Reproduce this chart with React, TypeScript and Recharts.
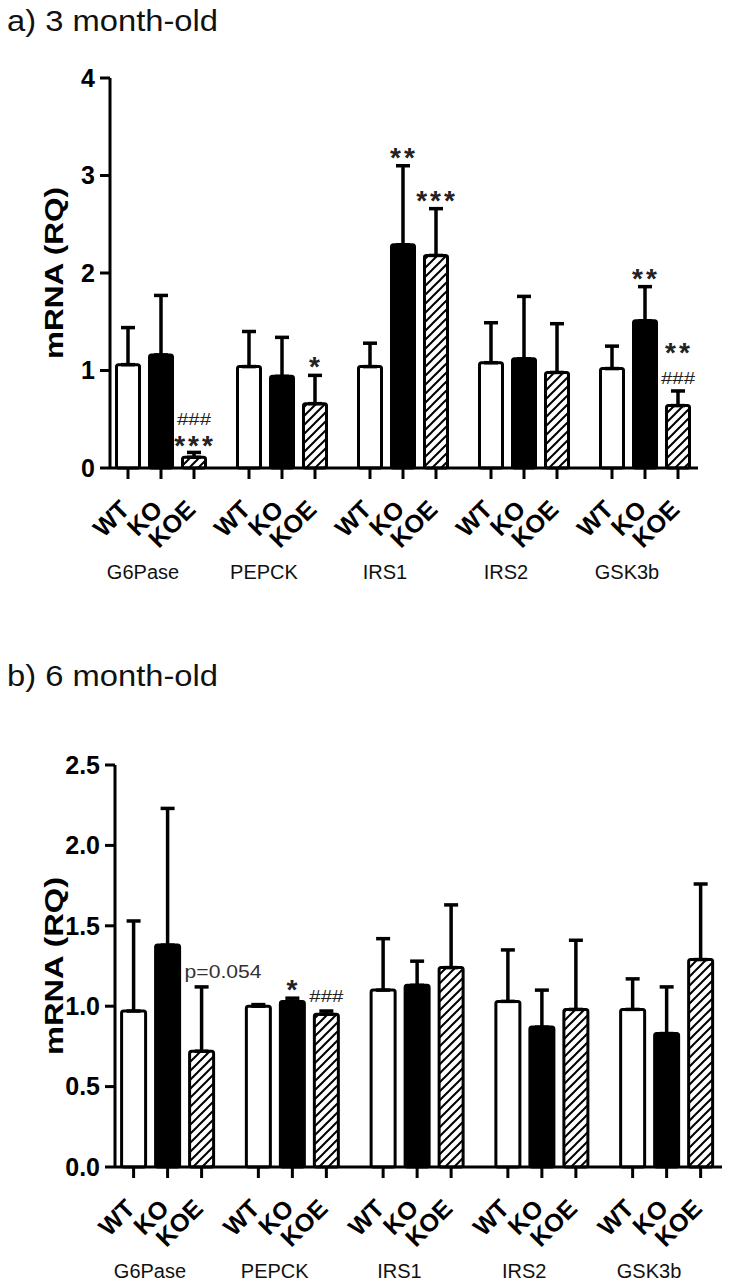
import React from "react";
import { BarChart, Bar, XAxis, YAxis, ErrorBar } from "recharts";

const FONT = "'Liberation Sans', Arial, Helvetica, sans-serif";

const genes = ["G6Pase", "PEPCK", "IRS1", "IRS2", "GSK3b"];
const genotypes = ["WT", "KO", "KOE"];

// a) 3 month-old: mean and upper SEM
const wt3 = [1.06, 1.04, 1.04, 1.08, 1.02];
const wt3Sem = [0.38, 0.36, 0.24, 0.41, 0.23];
const ko3 = [1.16, 0.94, 2.29, 1.12, 1.51];
const ko3Sem = [0.61, 0.4, 0.81, 0.64, 0.35];
const koe3 = [0.11, 0.66, 2.18, 0.98, 0.64];
const koe3Sem = [0.05, 0.29, 0.48, 0.5, 0.15];
const wt3Marks = ["", "", "", "", ""];
const ko3Marks = ["", "", "**", "", "**"];
const koe3Marks = ["###\n***", "*", "***", "", "**\n###"];
const ticks3 = [0, 1, 2, 3, 4];

// b) 6 month-old
const wt6 = [0.97, 1.0, 1.1, 1.03, 0.98];
const wt6Sem = [0.56, 0.01, 0.32, 0.32, 0.19];
const ko6 = [1.38, 1.03, 1.13, 0.87, 0.83];
const ko6Sem = [0.85, 0.02, 0.15, 0.23, 0.29];
const koe6 = [0.72, 0.95, 1.24, 0.98, 1.29];
const koe6Sem = [0.4, 0.02, 0.39, 0.43, 0.47];
const wt6Marks = ["", "", "", "", ""];
const ko6Marks = ["", "*", "", "", ""];
const koe6Marks = ["p=0.054", "###", "", "", ""];
const ticks6 = [0, 0.5, 1, 1.5, 2, 2.5];

function buildRows(wt: number[], wtS: number[], ko: number[], koS: number[], koe: number[], koeS: number[]) {
  return genes.map((gene, i) => ({
    gene,
    WT: wt[i],
    WTerr: [0, wtS[i]],
    KO: ko[i],
    KOerr: [0, koS[i]],
    KOE: koe[i],
    KOEerr: [0, koeS[i]],
  }));
}

const rows3 = buildRows(wt3, wt3Sem, ko3, ko3Sem, koe3, koe3Sem);
const rows6 = buildRows(wt6, wt6Sem, ko6, ko6Sem, koe6, koe6Sem);

// significance marks above the error bar, stacked bottom-up
function Marks({ lines, cx, left, errTop }: { lines: string[]; cx: number; left: number; errTop: number }) {
  if (!lines.length) return null;
  if (lines[0].startsWith("p=")) {
    return (
      <text x={left - 5} y={errTop - 15 + 6} fontFamily={FONT} fontSize={19} fill="#333"
        textLength={77} lengthAdjust="spacingAndGlyphs">
        {lines[0]}
      </text>
    );
  }
  const centers: number[] = [];
  let c = lines.length > 1 ? errTop - 13 : errTop - 15;
  for (let k = lines.length - 1; k >= 0; k--) {
    centers[k] = c;
    if (k > 0) c -= lines[k - 1].startsWith("*") ? 32 : 20;
  }
  return (
    <g>
      {lines.map((t, k) => {
        const star = t.startsWith("*");
        return star ? (
          <text key={k} x={cx + 1} y={centers[k] + 16} textAnchor="middle" fontFamily={FONT} fontSize={28}
            fontWeight="bold" letterSpacing={3} fill="#222">
            {t}
          </text>
        ) : (
          <text key={k} x={cx} y={centers[k] + 6} textAnchor="middle" fontFamily={FONT} fontSize={17} fill="#222"
            textLength={34} lengthAdjust="spacingAndGlyphs">
            {t}
          </text>
        );
      })}
    </g>
  );
}

// bar + tick mark + rotated genotype label + significance marks
function makeShape(key: string, fill: string, marks: string[]) {
  return (p: any) => {
    const { x, y, width, height, index, payload } = p;
    const cx = x + width / 2;
    const base = y + height;
    const ppu = height / payload[key];
    const errTop = y - payload[key + "err"][1] * ppu;
    const lines = (marks[index] || "").split("\n").filter(Boolean);
    return (
      <g>
        <rect x={x} y={y} width={width} height={height} rx={2} fill={fill} stroke="#000" strokeWidth={3} />
        <line x1={cx} x2={cx} y1={base} y2={base + 11} stroke="#000" strokeWidth={3} />
        <text
          transform={`translate(${cx + 3},${base + 43}) rotate(-45)`}
          textAnchor="end"
          fontFamily={FONT}
          fontSize={25}
          fontWeight="bold"
          fill="#000"
        >
          {key}
        </text>
        <Marks lines={lines} cx={cx} left={x} errTop={errTop} />
      </g>
    );
  };
}

const GeneTick = (p: any) => (
  <text x={p.x - 18} y={p.y + 111} textAnchor="middle" fontFamily={FONT} fontSize={20} fill="#111">
    {p.payload.value}
  </text>
);

interface PanelProps {
  top: number;
  height: number;
  rows: any[];
  marks: string[][];
  yMax: number;
  yTicks: number[];
  fmt: (v: number) => string;
  margin: { top: number; right: number; left: number; bottom: number };
  yWidth: number;
  xHeight: number;
  pad: { left: number; right: number };
  barSize: number;
  labelLen: number;
  hatchId: string;
}

function Panel(props: PanelProps) {
  const { top, height, rows, marks, yMax, yTicks, fmt, margin, yWidth, xHeight, pad, barSize, labelLen, hatchId } = props;
  const fills = ["#fff", "#000", `url(#${hatchId})`];
  return (
    <div style={{ position: "absolute", left: 0, top }}>
      <BarChart width={732} height={height} data={rows} margin={margin} barSize={barSize} barGap={10}>
        <defs>
          <pattern id={hatchId} patternUnits="userSpaceOnUse" width={9} height={9}>
            <rect width={9} height={9} fill="#fff" />
            <path d="M-1,1 L1,-1 M0,9 L9,0 M8,10 L10,8" stroke="#000" strokeWidth={2} />
          </pattern>
        </defs>
        <XAxis
          dataKey="gene"
          interval={0}
          height={xHeight}
          padding={pad}
          tickLine={false}
          tickSize={0}
          tickMargin={0}
          axisLine={{ stroke: "#000", strokeWidth: 3 }}
          tick={<GeneTick />}
        />
        <YAxis
          width={yWidth}
          domain={[0, yMax]}
          ticks={yTicks}
          interval={0}
          tickFormatter={fmt}
          tickSize={10}
          tickMargin={5}
          axisLine={{ stroke: "#000", strokeWidth: 3 }}
          tickLine={{ stroke: "#000", strokeWidth: 3 }}
          tick={{ fontSize: 25, fontWeight: 700, fill: "#000", fontFamily: FONT }}
          label={(lp: any) => {
            const vb = lp.viewBox || {};
            const cy = (vb.y || 0) + (vb.height || 0) / 2;
            return (
              <text
                transform={`translate(${(vb.x || 0) + 63},${cy}) rotate(-90)`}
                textAnchor="middle"
                fontFamily={FONT}
                fontSize={25}
                fontWeight="bold"
                fill="#000"
                textLength={labelLen}
                lengthAdjust="spacingAndGlyphs"
              >
                mRNA (RQ)
              </text>
            );
          }}
        />
        {genotypes.map((g, j) => (
          <Bar key={g} dataKey={g} isAnimationActive={false} shape={makeShape(g, fills[j], marks[j])}>
            <ErrorBar dataKey={g + "err"} width={7} stroke="#000" strokeWidth={3.5} direction="y" isAnimationActive={false} />
          </Bar>
        ))}
      </BarChart>
    </div>
  );
}

function Title({ top, text }: { top: number; text: string }) {
  return (
    <svg style={{ position: "absolute", left: 0, top }} width={260} height={45}>
      <text x={7} y={31} fontFamily={FONT} fontSize={29} fill="#111" textLength={211} lengthAdjust="spacingAndGlyphs">
        {text}
      </text>
    </svg>
  );
}

export default function App() {
  return (
    <div style={{ position: "absolute", left: 0, top: 0, width: 732, height: 1285, background: "#fff" }}>
      <Title top={0} text="a) 3 month-old" />
      <Panel
        top={0}
        height={620}
        rows={rows3}
        marks={[wt3Marks, ko3Marks, koe3Marks]}
        yMax={4}
        yTicks={ticks3}
        fmt={(v) => String(v)}
        margin={{ top: 78, right: 34, left: 0, bottom: 0 }}
        yWidth={110}
        xHeight={152}
        pad={{ left: -9.5, right: -7.5 }}
        barSize={23}
        labelLen={172}
        hatchId="hatch3"
      />
      <Title top={655} text="b) 6 month-old" />
      <Panel
        top={640}
        height={645}
        rows={rows6}
        marks={[wt6Marks, ko6Marks, koe6Marks]}
        yMax={2.5}
        yTicks={ticks6}
        fmt={(v) => v.toFixed(1)}
        margin={{ top: 125, right: 10, left: 0, bottom: 0 }}
        yWidth={115}
        xHeight={118}
        pad={{ left: -9.4, right: -7.4 }}
        barSize={24}
        labelLen={178}
        hatchId="hatch6"
      />
    </div>
  );
}
